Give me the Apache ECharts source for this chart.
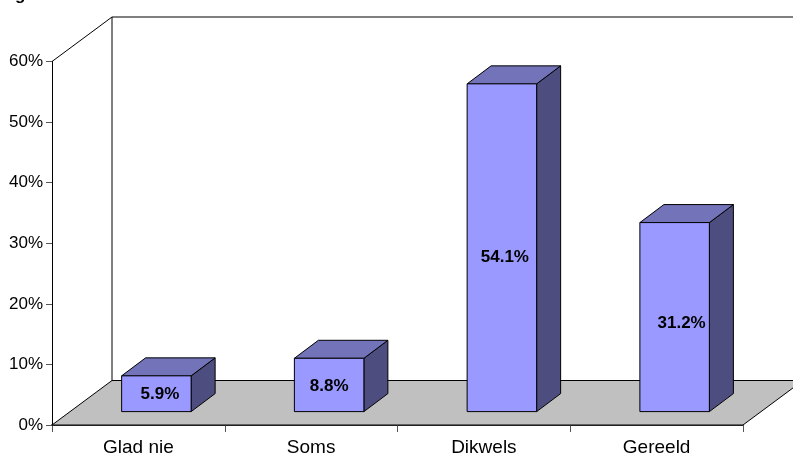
<!DOCTYPE html>
<html><head><meta charset="utf-8">
<style>html,body{margin:0;padding:0;background:#fff}#c{width:793px;height:457px}</style>
<script src="https://cdn.jsdelivr.net/npm/echarts@6/dist/echarts.min.js"></script>
</head><body><div id="c"></div>
<script>
var categories = ['Glad nie', 'Soms', 'Dikwels', 'Gereeld'];
var values = [5.9, 8.8, 54.1, 31.2];
var valueTicks = [0, 10, 20, 30, 40, 50, 60];
var titleText = 'Fig';
var labelShiftX = [3.5, 0, 3, 7];
var labelShiftY = [1, 1, 10, 6];

var DEPTH_X = 60, DEPTH_Y = 44.5;    // oblique offset of the back wall
var BAR_DX = 24, BAR_DY = 18;        // oblique depth of one bar
var SHIFT_X = 18, SHIFT_Y = 13.4;    // bars stand in the middle of the floor
var BAR_W = 69.5;

function poly(points, fill, stroke, lw) {
  return {type:'polygon', shape:{points:points}, style:{fill:fill, stroke:stroke||'#000', lineWidth:lw==null?1:lw, lineJoin:'miter'}};
}
function line(x1,y1,x2,y2,stroke,lw){
  return {type:'line', shape:{x1:x1,y1:y1,x2:x2,y2:y2}, style:{stroke:stroke||'#000', lineWidth:lw||1}};
}

var chart = echarts.init(document.getElementById('c'), null, {renderer:'canvas'});
chart.setOption({
  animation:false,
  backgroundColor:'#fff',
  title:{text:titleText, left:0, top:-13, padding:0, textStyle:{fontFamily:'Liberation Sans', fontSize:17, fontWeight:'bold', color:'#000'}},
  grid:{left:52, right:50, top:61.5, bottom:30.5, containLabel:false},
  xAxis:{type:'category', data:categories, boundaryGap:true,
    axisLine:{show:true, lineStyle:{color:'#404040', width:2}},
    axisTick:{show:true, alignWithLabel:false, length:7, lineStyle:{color:'#555', width:1}},
    axisLabel:{color:'#000', fontFamily:'Liberation Sans', fontSize:19, margin:13},
    splitLine:{show:false}},
  yAxis:{type:'value', min:0, max:60, interval:10,
    axisLine:{show:true, onZero:false, lineStyle:{color:'#000', width:1}},
    axisTick:{show:true, length:6, lineStyle:{color:'#555', width:1}},
    axisLabel:{color:'#000', fontFamily:'Liberation Sans', fontSize:17, margin:9, padding:[2,0,0,0], formatter:function(v){return v+'%';}},
    splitLine:{show:false}},
  series:[
    {type:'custom', coordinateSystem:'cartesian2d', silent:true, z:1, clip:false,
      data:[[0,0]],
      renderItem:function(p, api){
        var o = api.coord([0, 0]);
        var band = api.size([1,0])[0];
        var left = o[0]-band/2, right = left+band*categories.length;
        var y0 = o[1], yTop = api.coord([0, valueTicks[valueTicks.length-1]])[1];
        var dx = DEPTH_X, dy = DEPTH_Y;
        return {type:'group', children:[
          poly([[left,y0],[right,y0],[right+dx,y0-dy],[left+dx,y0-dy]], '#c0c0c0', '#000', 1),
          line(left+dx, y0-dy, left+dx, yTop-dy),
          line(left+dx, yTop-dy, right+dx, yTop-dy),
          line(left, yTop, left+dx, yTop-dy)
        ]};
      }},
    {type:'custom', coordinateSystem:'cartesian2d', silent:true, z:2, clip:false,
      data:values.map(function(v,i){return [i,v];}),
      encode:{x:0,y:1},
      renderItem:function(p, api){
        var v = api.value(1), i = api.value(0);
        var base = api.coord([i,0]), top = api.coord([i,v]);
        var cx = base[0]+SHIFT_X, x0 = cx-BAR_W/2, x1 = cx+BAR_W/2;
        var yb = base[1]-SHIFT_Y, yt = top[1]-SHIFT_Y;
        var dx = BAR_DX, dy = BAR_DY;
        return {type:'group', children:[
          poly([[x1,yb],[x1+dx,yb-dy],[x1+dx,yt-dy],[x1,yt]], '#4d4d80'),
          poly([[x0,yt],[x1,yt],[x1+dx,yt-dy],[x0+dx,yt-dy]], '#7373b9'),
          {type:'rect', shape:{x:x0,y:yt,width:BAR_W,height:yb-yt}, style:{fill:'#9999ff', stroke:'#000', lineWidth:1}},
          {type:'text', x:cx+labelShiftX[i], y:(yt+yb)/2+labelShiftY[i], style:{text:v.toFixed(1)+'%', fill:'#000', font:'bold 17px "Liberation Sans"', align:'center', verticalAlign:'middle'}}
        ]};
      }}
  ]
});
</script></body></html>
